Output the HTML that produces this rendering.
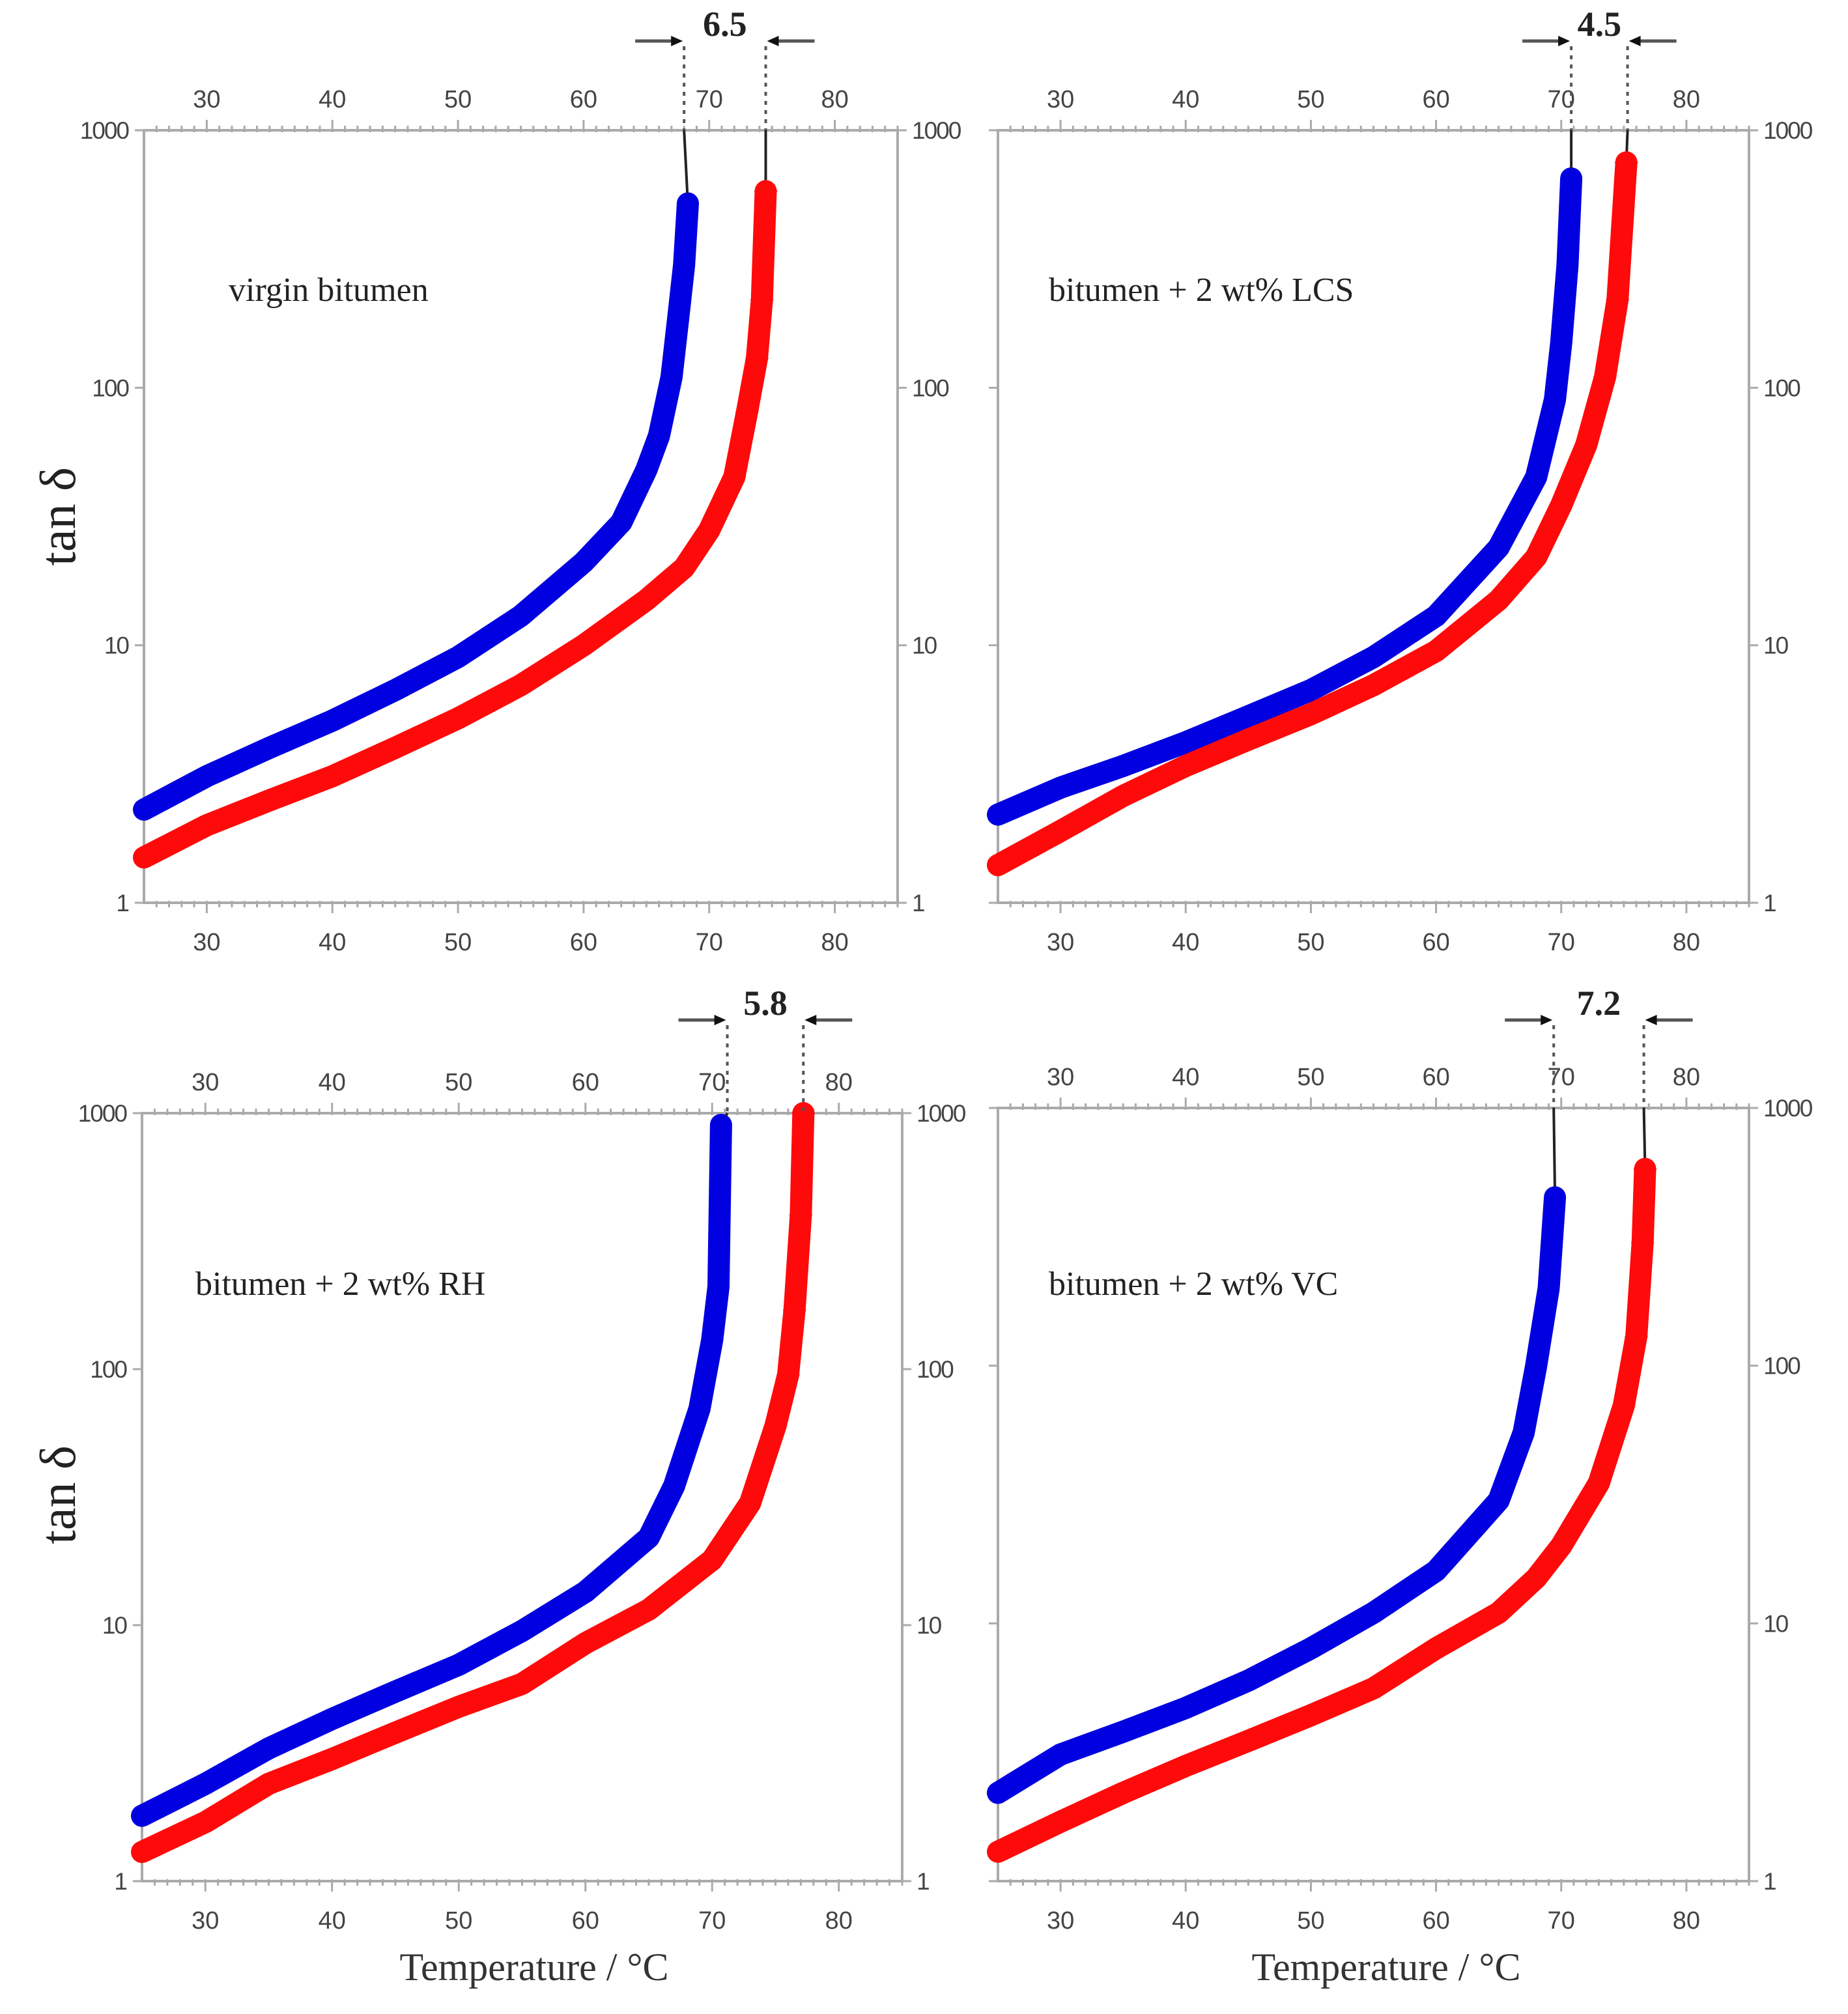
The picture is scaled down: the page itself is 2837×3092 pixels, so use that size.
<!DOCTYPE html>
<html><head><meta charset="utf-8"><style>
html,body{margin:0;padding:0;background:#fff;}
svg{display:block;}
</style></head><body>
<svg id="fig" width="2837" height="3092" viewBox="0 0 2837 3092" xmlns="http://www.w3.org/2000/svg">
<text x="115" y="793" transform="rotate(-90 115 793)" text-anchor="middle" font-family="Liberation Serif, serif" font-size="78" fill="#222">tan δ</text>
<text x="115" y="2295" transform="rotate(-90 115 2295)" text-anchor="middle" font-family="Liberation Serif, serif" font-size="78" fill="#222">tan δ</text>
<text x="820" y="3040" text-anchor="middle" font-family="Liberation Serif, serif" font-size="60" fill="#333">Temperature / °C</text>
<text x="2128" y="3040" text-anchor="middle" font-family="Liberation Serif, serif" font-size="60" fill="#333">Temperature / °C</text>
</svg>
<script>
// Panel 1: virgin bitumen
const p1BlueT = [25,30,35,40,45,50,55,60,63,65,66,67,67.5,68,68.3];
const p1BlueV = [2.3,3.1,4.0,5.1,6.7,9.0,13,21,30,48,65,110,180,300,520];
const p1RedT = [25,30,35,40,45,50,55,60,65,68,70,72,73,73.8,74.2,74.5];
const p1RedV = [1.5,2.0,2.5,3.1,4.0,5.2,7.0,10,15,20,28,45,80,130,220,580];
const p1Marks = [68.0,74.5];
// Panel 2: LCS
const p2BlueT = [25,30,35,40,45,50,55,60,65,68,69.5,70,70.5,70.8];
const p2BlueV = [2.2,2.8,3.4,4.2,5.3,6.7,9,13,24,45,90,150,300,650];
const p2RedT = [25,30,35,40,45,50,55,60,65,68,70,72,73.5,74.5,75.2];
const p2RedV = [1.4,1.9,2.6,3.4,4.3,5.4,7,9.5,15,22,35,60,110,220,750];
const p2Marks = [70.8,75.3];
// Panel 3: RH
const p3BlueT = [25,30,35,40,45,50,55,60,65,67,69,70,70.5,70.7];
const p3BlueV = [1.8,2.4,3.3,4.3,5.5,7.0,9.5,13.5,22,35,70,130,210,900];
const p3RedT = [25,30,35,40,45,50,55,60,65,70,73,75,76,76.5,77,77.2];
const p3RedV = [1.3,1.7,2.4,3.0,3.8,4.8,5.9,8.5,11.5,18,30,60,95,170,400,1000];
const p3Marks = [71.2,77.2];
// Panel 4: VC
const p4BlueT = [25,30,35,40,45,50,55,60,65,67,68,69,69.5];
const p4BlueV = [2.2,3.1,3.8,4.7,6,8,11,16,30,55,100,200,450];
const p4RedT = [25,30,35,40,45,50,55,60,65,68,70,73,75,76,76.5,76.7];
const p4RedV = [1.3,1.7,2.2,2.8,3.5,4.4,5.6,8,11,15,20,35,70,130,300,580];
const p4Marks = [69.4,76.6];
const xTicks = [30,40,50,60,70,80];
const yTicks = [1,10,100,1000];
const yTickLabels = ["1","10","100","1000"];
const labels = ["virgin bitumen","bitumen + 2 wt% LCS","bitumen + 2 wt% RH","bitumen + 2 wt% VC"];
const diffLabels = ["6.5","4.5","5.8","7.2"];

const NS="http://www.w3.org/2000/svg";
const svg=document.getElementById('fig');
function mk(tag,attrs,parent){const e=document.createElementNS(NS,tag);for(const k in attrs)e.setAttribute(k,attrs[k]);(parent||svg).appendChild(e);return e;}

const panels=[
 {L:221,R:1378,T:200,B:1386,bt:p1BlueT,bv:p1BlueV,rt:p1RedT,rv:p1RedV,m:p1Marks,lx:351,ly:462,ay:63,left:true},
 {L:1532,R:2685,T:200,B:1386,bt:p2BlueT,bv:p2BlueV,rt:p2RedT,rv:p2RedV,m:p2Marks,lx:1610,ly:462,ay:63,left:false},
 {L:218,R:1385,T:1709,B:2888,bt:p3BlueT,bv:p3BlueV,rt:p3RedT,rv:p3RedV,m:p3Marks,lx:300,ly:1988,ay:1566,left:true},
 {L:1532,R:2685,T:1701,B:2888,bt:p4BlueT,bv:p4BlueV,rt:p4RedT,rv:p4RedV,m:p4Marks,lx:1610,ly:1988,ay:1566,left:false}
];
const AX="#aaa", TXT="#444";
panels.forEach((p,i)=>{
  const g=mk('g',{});
  
  
  const sx=t=>p.L+(t-25)/60*(p.R-p.L);
  const sy=v=>p.B-Math.log10(v)/3*(p.B-p.T);
  const fr=mk('rect',{x:p.L,y:p.T,width:p.R-p.L,height:p.B-p.T,fill:'none',stroke:AX,'stroke-width':4},g);
  
  
  for(let t=26;t<=85;t++){
    const x=sx(t), major=(t%10===0);
    mk('line',{x1:x,x2:x,y1:p.T-(major?16:7),y2:p.T+3,stroke:AX,'stroke-width':3},g);
    mk('line',{x1:x,x2:x,y1:p.B-3,y2:p.B+(major?16:7),stroke:AX,'stroke-width':3},g);
  }
  xTicks.forEach(t=>{
    const a=mk('text',{x:sx(t),y:p.T-35,'text-anchor':'middle','font-family':'Liberation Sans, sans-serif','font-size':38,fill:TXT},g);
    a.textContent=t;
    
    
    const b=mk('text',{x:sx(t),y:p.B+73,'text-anchor':'middle','font-family':'Liberation Sans, sans-serif','font-size':38,fill:TXT},g);
    b.textContent=t;
    
    
  });
  yTicks.forEach((v,k)=>{
    const y=sy(v);
    mk('line',{x1:p.L-14,x2:p.L,y1:y,y2:y,stroke:AX,'stroke-width':3},g);
    mk('line',{x1:p.R,x2:p.R+14,y1:y,y2:y,stroke:AX,'stroke-width':3},g);
    if(p.left){
      const a=mk('text',{x:p.L-24,y:y+13,'text-anchor':'end','font-family':'Liberation Sans, sans-serif','font-size':37,fill:TXT,'letter-spacing':'-2'},g);
      a.textContent=yTickLabels[k];
      
      
    }
    const b=mk('text',{x:p.R+22,y:y+13,'text-anchor':'start','font-family':'Liberation Sans, sans-serif','font-size':37,fill:TXT,'letter-spacing':'-2'},g);
    b.textContent=yTickLabels[k];
    
    
  });
  [[p.bt,p.bv,'#0000e0','blue'],[p.rt,p.rv,'#ff0a0a','red']].forEach(([ts,vs,col,nm],si)=>{
    const d=ts.map((t,k)=>(k?'L':'M')+sx(t).toFixed(1)+' '+sy(vs[k]).toFixed(1)).join(' ');
    const pa=mk('path',{d:d,fill:'none',stroke:col,'stroke-width':34,'stroke-linecap':'round','stroke-linejoin':'round'},g);
    
    
    const last=ts.length-1;
    const vl=mk('line',{x1:sx(ts[last]),y1:sy(vs[last]),x2:sx(p.m[si]),y2:p.T,stroke:'#222','stroke-width':4},g);
    
    
    ts.forEach((t,k)=>{
      if(vs[k]<40) return;
      const x=sx(t),y=sy(vs[k]);
      let e;
      if(si===0) e=mk('circle',{cx:x,cy:y,r:16,fill:col},g);
      else e=mk('polygon',{points:`${x},${y-18} ${x+18},${y} ${x},${y+18} ${x-18},${y}`,fill:col},g);
      
      
    });
  });
  const lb=mk('text',{x:p.lx,y:p.ly,'font-family':'Liberation Serif, serif','font-size':52,fill:'#222'},g);
  lb.textContent=labels[i];
  
  
  const x1=sx(p.m[0]), x2=sx(p.m[1]);
  [x1,x2].forEach(x=>{
    const dl=mk('line',{x1:x,x2:x,y1:p.ay+8,y2:p.T,stroke:'#555','stroke-width':4,'stroke-dasharray':'6 8'},g);
    
    
  });
  mk('line',{x1:x1-75,x2:x1-10,y1:p.ay,y2:p.ay,stroke:'#555','stroke-width':5},g);
  mk('polygon',{points:`${x1-2},${p.ay} ${x1-20},${p.ay-8} ${x1-20},${p.ay+8}`,fill:'#111'},g);
  mk('line',{x1:x2+10,x2:x2+75,y1:p.ay,y2:p.ay,stroke:'#555','stroke-width':5},g);
  mk('polygon',{points:`${x2+2},${p.ay} ${x2+20},${p.ay-8} ${x2+20},${p.ay+8}`,fill:'#111'},g);
  const dt=mk('text',{x:(x1+x2)/2,y:p.ay-8,'text-anchor':'middle','font-family':'Liberation Serif, serif','font-size':54,'font-weight':'bold',fill:'#222'},g);
  dt.textContent=diffLabels[i];
  
  
});
</script>
</body></html>
